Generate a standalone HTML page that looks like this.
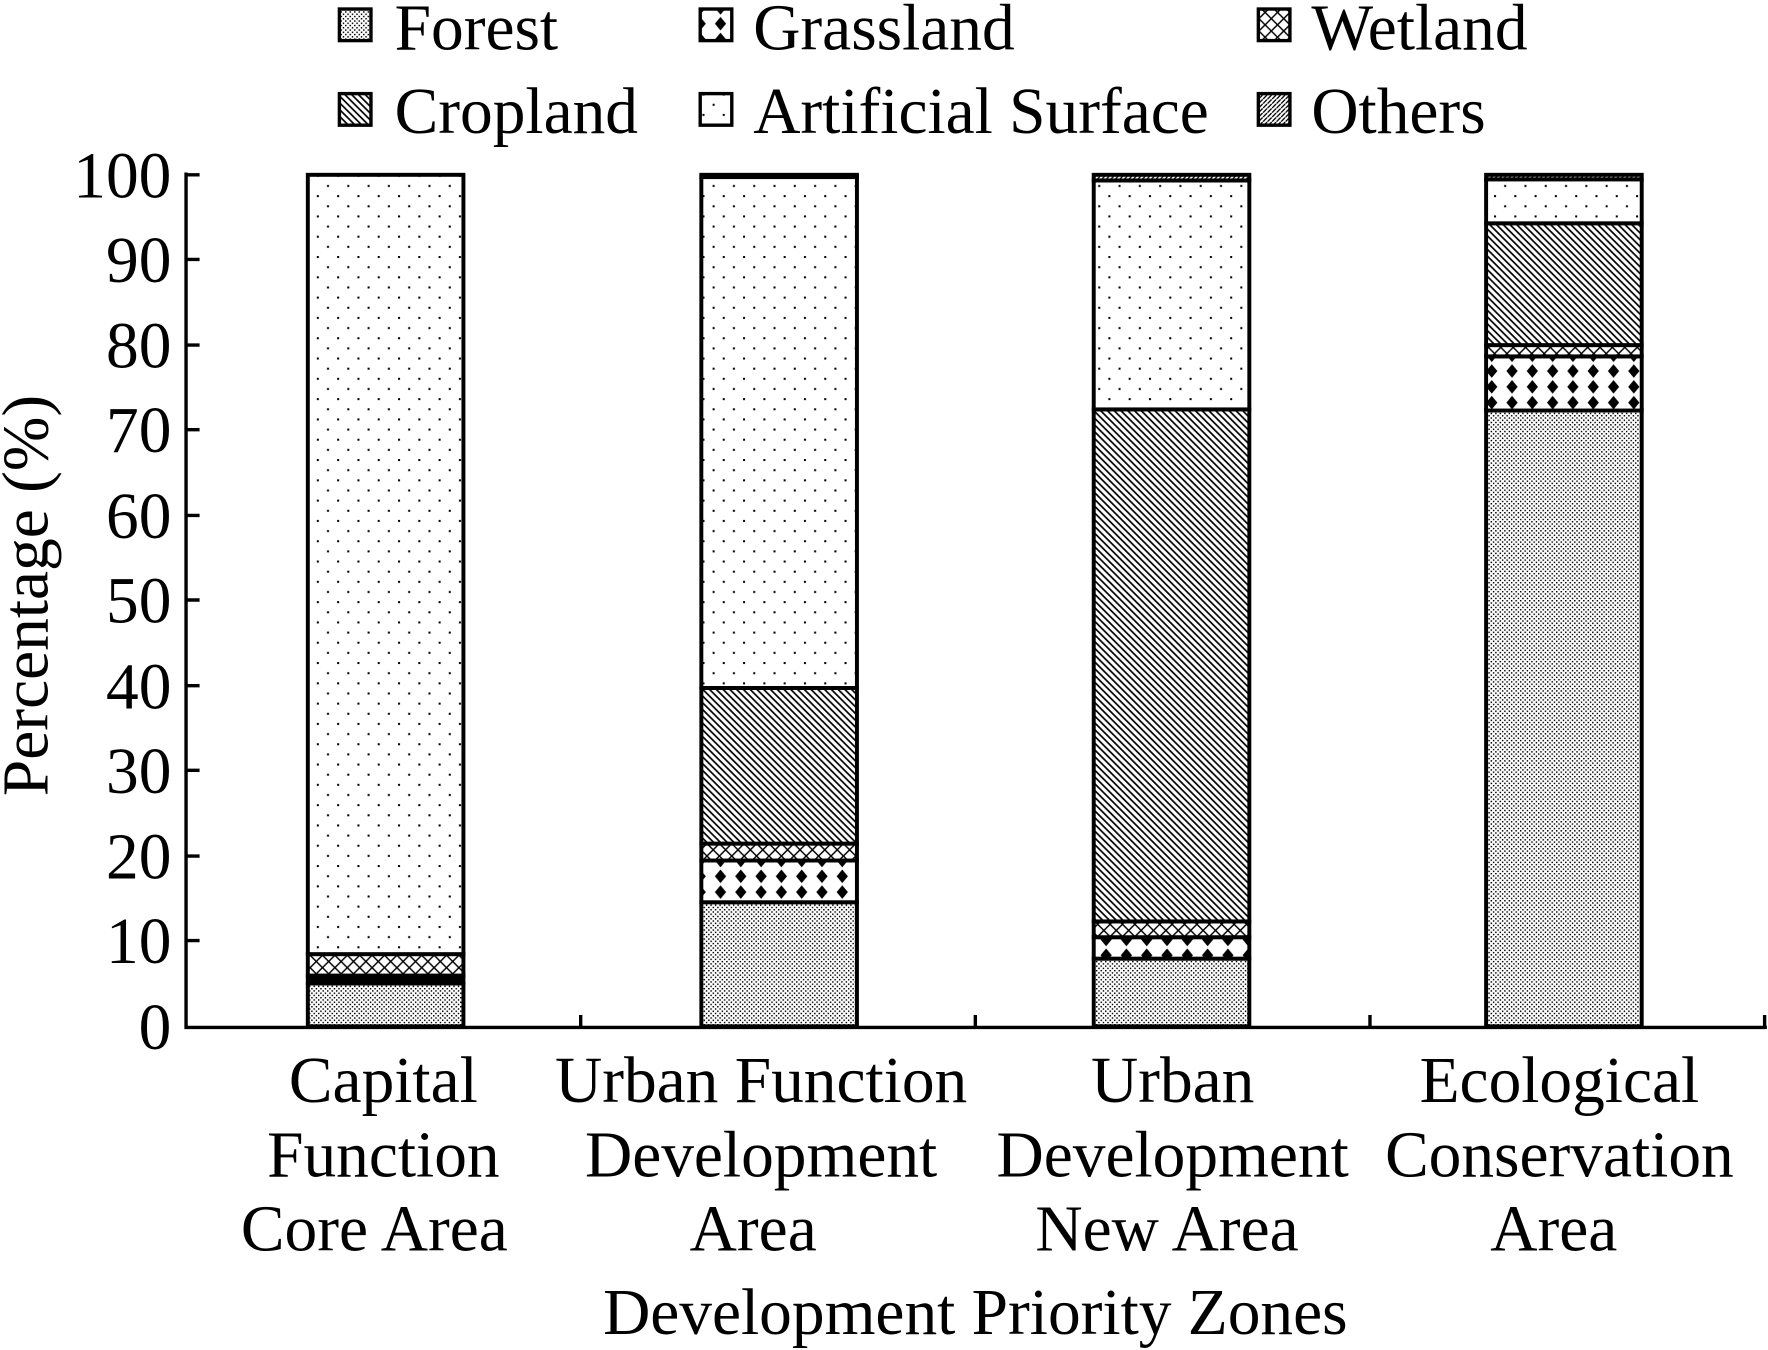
<!DOCTYPE html>
<html><head><style>html,body{margin:0;padding:0;background:#fff}svg{display:block}</style></head><body>
<svg width="1768" height="1350" viewBox="0 0 1568 1197" preserveAspectRatio="none" xmlns="http://www.w3.org/2000/svg" font-family="Liberation Serif, serif">
<defs>
<pattern id="forest" width="4" height="4" patternUnits="userSpaceOnUse"><rect width="4" height="4" fill="#fff"/><rect x="0" y="0" width="1.3" height="1.3" fill="#000"/><rect x="2" y="2" width="1.3" height="1.3" fill="#000"/></pattern>
<pattern id="art" width="18" height="18" patternUnits="userSpaceOnUse"><rect width="18" height="18" fill="#fff"/><rect x="2" y="2" width="1.8" height="1.8" fill="#000"/><rect x="11" y="11" width="1.8" height="1.8" fill="#000"/></pattern>
<pattern id="crop" width="6" height="6" patternUnits="userSpaceOnUse"><rect width="6" height="6" fill="#fff"/><path d="M-1,-1 L7,7 M-1,5 L1,7 M5,-1 L7,1" stroke="#000" stroke-width="1.5"/></pattern>
<pattern id="wet" width="11" height="11" patternUnits="userSpaceOnUse"><rect width="11" height="11" fill="#fff"/><path d="M0,0 L11,11 M11,0 L0,11" stroke="#000" stroke-width="1.3"/></pattern>
<pattern id="grass" width="18" height="14" patternUnits="userSpaceOnUse"><rect width="18" height="14" fill="#fff"/><path d="M9,1 L14,7 L9,13 L4,7Z" fill="#000"/></pattern>
<pattern id="oth" width="4" height="4" patternUnits="userSpaceOnUse"><rect width="4" height="4" fill="#fff"/><path d="M-1,5 L5,-1" stroke="#000" stroke-width="1.2"/></pattern>
</defs>
<g font-size="58">
<rect x="301" y="8" width="28" height="28" fill="url(#forest)" stroke="#000" stroke-width="3"/><text x="350" y="44">Forest</text>
<rect x="621" y="8" width="28" height="28" fill="url(#grass)" stroke="#000" stroke-width="3"/><text x="668" y="44">Grassland</text>
<rect x="1116" y="8" width="28" height="28" fill="url(#wet)" stroke="#000" stroke-width="3"/><text x="1163" y="44">Wetland</text>
<rect x="301" y="83" width="28" height="28" fill="url(#crop)" stroke="#000" stroke-width="3"/><text x="350" y="118">Cropland</text>
<rect x="621" y="83" width="28" height="28" fill="url(#art)" stroke="#000" stroke-width="3"/><text x="668" y="118">Artificial Surface</text>
<rect x="1116" y="83" width="28" height="28" fill="url(#oth)" stroke="#000" stroke-width="3"/><text x="1163" y="118">Others</text>
</g>
<g stroke="#000" stroke-width="3.5">
<rect x="273" y="872" width="138" height="38" fill="url(#forest)"/>
<rect x="273" y="865" width="138" height="7" fill="#000"/>
<rect x="273" y="846" width="138" height="19" fill="url(#wet)"/>
<rect x="273" y="155" width="138" height="691" fill="url(#art)"/>
<rect x="622" y="800" width="138" height="110" fill="url(#forest)"/>
<rect x="622" y="763" width="138" height="37" fill="url(#grass)"/>
<rect x="622" y="748" width="138" height="15" fill="url(#wet)"/>
<rect x="622" y="610" width="138" height="138" fill="url(#crop)"/>
<rect x="622" y="157" width="138" height="453" fill="url(#art)"/>
<rect x="622" y="155" width="138" height="2" fill="url(#oth)"/>
<rect x="970" y="850" width="138" height="60" fill="url(#forest)"/>
<rect x="970" y="831" width="138" height="19" fill="url(#grass)"/>
<rect x="970" y="817" width="138" height="14" fill="url(#wet)"/>
<rect x="970" y="363" width="138" height="454" fill="url(#crop)"/>
<rect x="970" y="160" width="138" height="203" fill="url(#art)"/>
<rect x="970" y="155" width="138" height="5" fill="url(#oth)"/>
<rect x="1318" y="364" width="138" height="546" fill="url(#forest)"/>
<rect x="1318" y="316" width="138" height="48" fill="url(#grass)"/>
<rect x="1318" y="306" width="138" height="10" fill="url(#wet)"/>
<rect x="1318" y="198" width="138" height="108" fill="url(#crop)"/>
<rect x="1318" y="159" width="138" height="39" fill="url(#art)"/>
<rect x="1318" y="155" width="138" height="4" fill="url(#oth)"/>
</g>
<g stroke="#000" stroke-width="3" fill="none">
<path d="M165,153 V911 H1567"/>
<path d="M165,155h12M165,230h12M165,306h12M165,381h12M165,457h12M165,532h12M165,608h12M165,683h12M165,759h12M165,834h12"/>
<path d="M515,910v-10M865,910v-10M1215,910v-10M1565,910v-10"/>
</g>
<g font-size="58" text-anchor="end">
<text x="152" y="175">100</text><text x="152" y="250">90</text><text x="152" y="326">80</text><text x="152" y="401">70</text><text x="152" y="477">60</text><text x="152" y="552">50</text><text x="152" y="628">40</text><text x="152" y="703">30</text><text x="152" y="779">20</text><text x="152" y="854">10</text><text x="152" y="930">0</text>
</g>
<text transform="translate(42,528) rotate(-90)" font-size="58" text-anchor="middle">Percentage (%)</text>
<g font-size="58" text-anchor="middle">
<text x="340" y="977">Capital</text><text x="340" y="1043">Function</text><text x="332" y="1109">Core Area</text>
<text x="675" y="977">Urban Function</text><text x="675" y="1043">Development</text><text x="668" y="1109">Area</text>
<text x="1040" y="977">Urban</text><text x="1040" y="1043">Development</text><text x="1035" y="1109">New Area</text>
<text x="1383" y="977">Ecological</text><text x="1383" y="1043">Conservation</text><text x="1378" y="1109">Area</text>
<text x="865" y="1183">Development Priority Zones</text>
</g>
</svg>
</body></html>
